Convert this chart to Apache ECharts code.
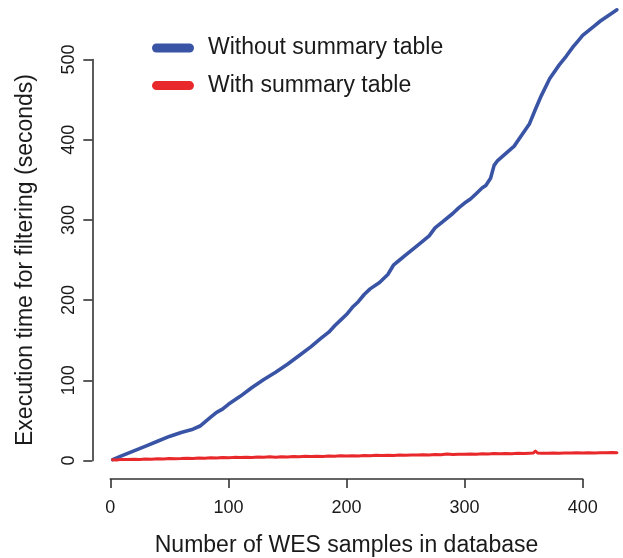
<!DOCTYPE html>
<html>
<head>
<meta charset="utf-8">
<script src="https://cdn.jsdelivr.net/npm/echarts@6/dist/echarts.min.js"></script>
<style>
html,body{margin:0;padding:0;background:#fff;}
#chart{width:623px;height:558px;}
</style>
</head>
<body>
<div id="chart"></div>
<script>
// ---- data ----
var seriesNames = ['Without summary table', 'With summary table'];
var xTicks = [0, 100, 200, 300, 400];
var yTicks = [0, 100, 200, 300, 400, 500];

var withoutX = [2, 10, 20, 30, 40, 50, 60, 70, 76, 80, 85, 90, 95, 100, 110, 120, 130, 140, 150, 160, 170, 178, 185, 190, 195, 200, 205, 210, 215, 220, 228, 235, 240, 245, 250, 260, 270, 275, 280, 290, 295, 300, 305, 310, 315, 318, 322, 325, 328, 335, 342, 348, 355, 360, 365, 372, 380, 386, 392, 396, 400, 405, 410, 415, 420, 425, 429];
var withoutY = [1, 6, 12, 18, 24, 30, 35, 39, 43, 48, 54, 60, 64, 70, 80, 91, 101, 110, 120, 131, 142, 152, 160, 168, 175, 182, 191, 198, 207, 214, 222, 232, 244, 250, 256, 268, 280, 290, 296, 308, 315, 321, 326, 333, 340, 343, 352, 368, 374, 383, 392, 405, 420, 438, 455, 476, 493, 504, 516, 523, 530, 536, 542, 548, 553, 558, 562];

var withX = [2, 5, 10, 15, 20, 25, 30, 35, 40, 45, 50, 55, 60, 65, 70, 75, 80, 85, 90, 95, 100, 105, 110, 115, 120, 125, 130, 135, 140, 145, 150, 155, 160, 165, 170, 175, 180, 185, 190, 195, 200, 205, 210, 215, 220, 225, 230, 235, 240, 245, 250, 255, 260, 265, 270, 275, 280, 285, 290, 295, 300, 305, 310, 315, 320, 325, 330, 335, 340, 345, 350, 355, 358, 360, 362, 365, 370, 375, 380, 385, 390, 395, 400, 405, 410, 415, 420, 425, 429];
var withY = [1.0, 0.6, 1.4, 1.1, 1.6, 1.3, 1.9, 1.7, 2.2, 1.9, 2.5, 2.2, 2.4, 2.9, 2.6, 3.1, 2.8, 3.4, 3.0, 3.6, 3.3, 3.9, 3.6, 4.2, 3.8, 4.4, 4.1, 4.6, 4.2, 4.8, 4.5, 5.0, 4.6, 5.2, 4.9, 5.4, 5.1, 5.6, 5.2, 5.8, 5.5, 6.0, 5.7, 6.2, 5.9, 6.4, 6.1, 6.6, 6.3, 6.8, 6.5, 7.0, 6.8, 7.2, 6.9, 7.4, 7.2, 8.2, 7.5, 7.9, 7.7, 8.2, 7.9, 8.4, 8.1, 8.6, 8.3, 8.7, 8.5, 8.9, 8.6, 9.0, 9.2, 11.8, 9.3, 8.9, 9.1, 9.3, 9.0, 9.4, 9.2, 9.6, 9.3, 9.7, 9.5, 9.8, 9.6, 10.0, 9.8];

function pairs(xs, ys){ var out=[]; for (var i=0;i<xs.length;i++) out.push([xs[i], ys[i]]); return out; }

var FONT = '"Liberation Sans", Arial, Helvetica, sans-serif';
var TXT = '#1a1a1a';
var AX = '#333333';
var BLUE = '#3a54a5';
var RED = '#e8282b';
var legendIcon = 'path://M4.5,0H37.5A4.5,4.5,0,0,1,37.5,9H4.5A4.5,4.5,0,0,1,4.5,0Z';

var chart = echarts.init(document.getElementById('chart'), null, {renderer:'canvas'});
chart.setOption({
  animation: false,
  backgroundColor: '#ffffff',
  textStyle: {fontFamily: FONT},
  legend: {
    orient: 'vertical',
    left: 152,
    top: 36.5,
    padding: 0,
    itemGap: 14.6,
    itemWidth: 42,
    itemHeight: 9,
    selectedMode: false,
    data: [
      {name: seriesNames[0], icon: legendIcon, itemStyle: {color: BLUE}},
      {name: seriesNames[1], icon: legendIcon, itemStyle: {color: RED}}
    ],
    textStyle: {fontSize: 23, color: TXT, fontFamily: FONT, padding: [0, 0, 0, 9]}
  },
  grid: [
    {left: 110.3, width: 507.8, top: 3.36, height: 461.15, containLabel: false, outerBoundsMode: 'none'},
    {left: 110.3, width: 472.4, top: 59.5, height: 401, containLabel: false, outerBoundsMode: 'none'}
  ],
  xAxis: [
    {type: 'value', gridIndex: 0, min: 0, max: 430, show: false},
    {type: 'value', gridIndex: 1, min: 0, max: 400, interval: 100, position: 'bottom', offset: 18.5,
     axisLine: {show: true, onZero: false, lineStyle: {color: AX, width: 1.6}},
     axisTick: {show: true, length: 9, inside: false, lineStyle: {color: AX, width: 1.6}},
     axisLabel: {fontSize: 18, color: TXT, margin: 20.5, fontFamily: FONT,
       formatter: function(v){ return xTicks.indexOf(v) >= 0 ? String(v) : ''; }},
     splitLine: {show: false},
     name: 'Number of WES samples in database', nameLocation: 'middle', nameGap: 55,
     nameTextStyle: {fontSize: 23, color: TXT, fontFamily: FONT}}
  ],
  yAxis: [
    {type: 'value', gridIndex: 0, min: -5, max: 570, show: false},
    {type: 'value', gridIndex: 1, min: 0, max: 500, interval: 100, position: 'left', offset: 18,
     axisLine: {show: true, onZero: false, lineStyle: {color: AX, width: 1.6}},
     axisTick: {show: true, length: 9, inside: false, lineStyle: {color: AX, width: 1.6}},
     axisLabel: {fontSize: 18, color: TXT, margin: 14, rotate: 90, fontFamily: FONT,
       formatter: function(v){ return yTicks.indexOf(v) >= 0 ? String(v) : ''; }},
     splitLine: {show: false},
     name: 'Execution time for filtering (seconds)', nameLocation: 'middle', nameGap: 55,
     nameTextStyle: {fontSize: 23, color: TXT, fontFamily: FONT}}
  ],
  series: [
    {name: seriesNames[0], type: 'line', xAxisIndex: 0, yAxisIndex: 0, showSymbol: false, symbol: 'none',
     data: pairs(withoutX, withoutY), lineStyle: {color: BLUE, width: 3.6, join: 'round', cap: 'round'},
     itemStyle: {color: BLUE}, z: 3},
    {name: seriesNames[1], type: 'line', xAxisIndex: 0, yAxisIndex: 0, showSymbol: false, symbol: 'none',
     data: pairs(withX, withY), lineStyle: {color: RED, width: 3, join: 'round', cap: 'round'},
     itemStyle: {color: RED}, z: 4},
    {type: 'line', xAxisIndex: 1, yAxisIndex: 1, data: [], silent: true}
  ]
});
</script>
</body>
</html>
